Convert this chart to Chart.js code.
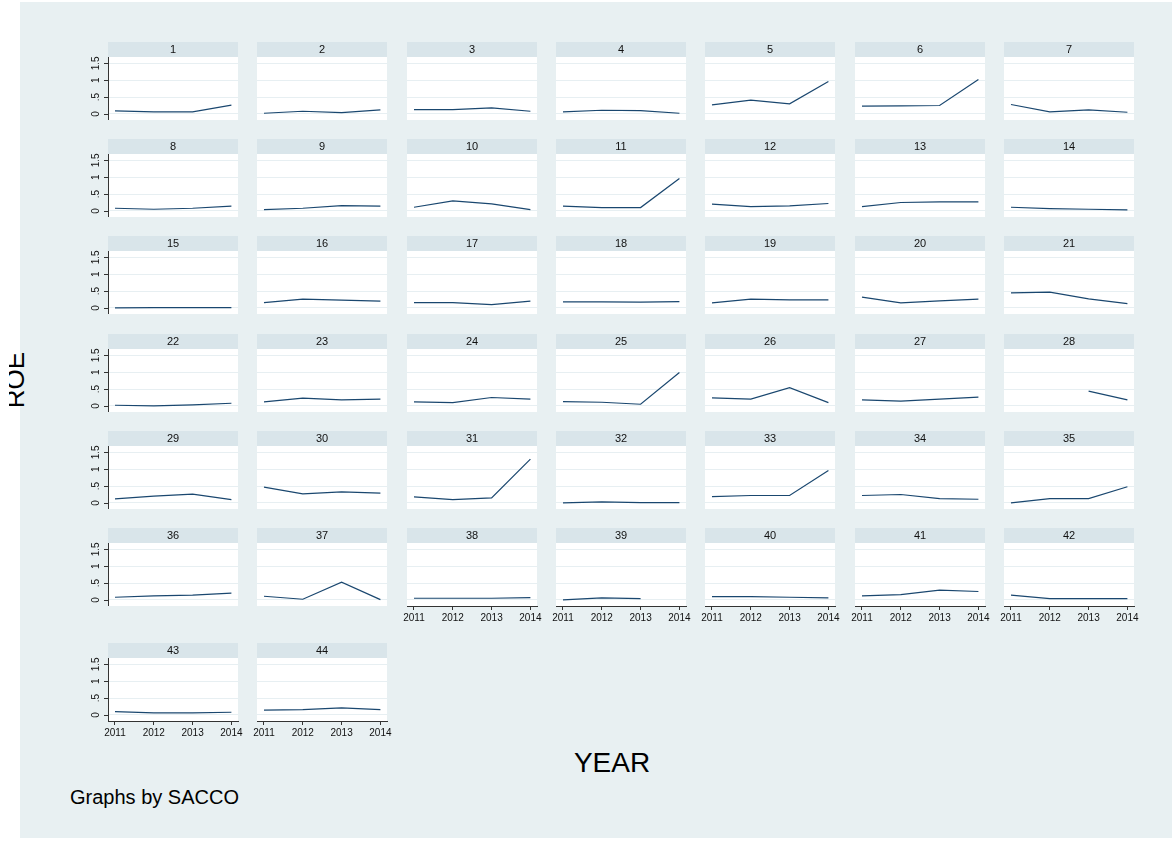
<!DOCTYPE html>
<html>
<head>
<meta charset="utf-8">
<script src="https://cdn.jsdelivr.net/npm/chart.js@4/dist/chart.umd.min.js"></script>
<style>
    body { margin: 0; background: #fff; font-family: "Liberation Sans", Arial, sans-serif; }
    #bg { position: absolute; left: 20px; top: 2px; width: 1152px; height: 836px; background: #e8f0f2; }
    canvas { position: absolute; }
    .lbl { position: absolute; color: #000; white-space: nowrap; }
</style>
</head>
<body>
<div id="bg"></div>
<div style="position:absolute;left:9px;top:320px;width:30px;height:120px;overflow:hidden">
    <div class="lbl" style="left:-44px;top:46px;width:100px;height:28px;line-height:28px;font-size:26px;text-align:center;transform:rotate(-90deg)">ROE</div>
</div>
<div class="lbl" style="left:612px;top:749px;font-size:28px;line-height:28px;transform:translateX(-50%)">YEAR</div>
<div class="lbl" style="left:70px;top:787px;font-size:20px;line-height:20px">Graphs by SACCO</div>
<div id="panels"></div>

<script>
// ROE by SACCO, one value per year (null = missing)
const years = [2011, 2012, 2013, 2014];
const sacco = Array.from({ length: 44 }, (_, i) => i + 1);
const yTicks = [0, 0.5, 1, 1.5];
const yTickLabels = ['0', '.5', '1', '1.5'];

const roe2011 = [0.09, 0.02, 0.13, 0.06, 0.27, 0.23, 0.28, 0.08, 0.04, 0.11, 0.14, 0.20, 0.13, 0.11,
    0.00, 0.16, 0.16, 0.18, 0.15, 0.32, 0.45, 0.02, 0.12, 0.12, 0.13, 0.24, 0.18, null,
    0.12, 0.47, 0.18, 0.00, 0.19, 0.22, 0.00, 0.08, 0.11, 0.05, 0.00, 0.10, 0.12, 0.14, 0.10, 0.14];
const roe2012 = [0.06, 0.08, 0.13, 0.11, 0.41, 0.24, 0.06, 0.05, 0.08, 0.30, 0.10, 0.13, 0.25, 0.07,
    0.01, 0.26, 0.16, 0.18, 0.26, 0.15, 0.47, 0.00, 0.23, 0.10, 0.11, 0.20, 0.14, null,
    0.20, 0.27, 0.10, 0.03, 0.22, 0.25, 0.13, 0.12, 0.02, 0.05, 0.06, 0.10, 0.16, 0.04, 0.06, 0.16];
const roe2013 = [0.06, 0.04, 0.18, 0.10, 0.30, 0.25, 0.12, 0.08, 0.16, 0.21, 0.10, 0.15, 0.27, 0.05,
    0.01, 0.23, 0.10, 0.17, 0.24, 0.21, 0.27, 0.03, 0.18, 0.25, 0.05, 0.54, 0.20, 0.44,
    0.26, 0.33, 0.15, 0.01, 0.22, 0.13, 0.13, 0.14, 0.53, 0.05, 0.04, 0.08, 0.29, 0.04, 0.06, 0.21];
const roe2014 = [0.26, 0.12, 0.08, 0.02, 0.96, 1.02, 0.05, 0.14, 0.14, 0.04, 0.96, 0.22, 0.27, 0.03,
    0.01, 0.20, 0.20, 0.19, 0.24, 0.26, 0.13, 0.08, 0.20, 0.20, 0.99, 0.10, 0.26, 0.18,
    0.10, 0.29, 1.30, 0.01, 0.96, 0.11, 0.48, 0.20, 0.01, 0.07, null, 0.06, 0.25, 0.04, 0.08, 0.16];

// layout of the 7-column grid (px)
const COLS = 7, PLOT_W = 130, PLOT_H = 63, STRIP_H = 15;
const LEFT0 = 108, COL_STEP = 149.3;
const rowTops = [42, 139.2, 236.4, 333.6, 430.8, 528, 643];
const Y_AXIS_W = 30, X_AXIS_H = 26, SIDE = 12;
const FONT = '"Liberation Sans", Arial, sans-serif';

// header strip above each panel + white plot region
const stripPlugin = {
    id: 'strip',
    beforeDraw(chart, args, opts) {
        const { ctx, chartArea: a } = chart;
        ctx.save();
        ctx.fillStyle = '#fff';
        ctx.fillRect(a.left, a.top, a.right - a.left, a.bottom - a.top);
        ctx.fillStyle = '#d9e5ea';
        ctx.fillRect(a.left, a.top - STRIP_H, a.right - a.left, STRIP_H);
        ctx.fillStyle = '#111';
        ctx.font = '11px ' + FONT;
        ctx.textAlign = 'center';
        ctx.textBaseline = 'middle';
        ctx.fillText(opts.text, (a.left + a.right) / 2, a.top - STRIP_H / 2);
        ctx.restore();
    },
    // Stata-style vertical y tick labels (only on first column)
    afterDraw(chart, args, opts) {
        if (!opts.yLabels) return;
        const { ctx, chartArea: a } = chart;
        const ys = chart.scales.y;
        ctx.save();
        ctx.fillStyle = '#111';
        ctx.font = '10px ' + FONT;
        ctx.textAlign = 'center';
        ctx.textBaseline = 'middle';
        yTicks.forEach((v, k) => {
            ctx.save();
            ctx.translate(a.left - 12, ys.getPixelForValue(v));
            ctx.rotate(-Math.PI / 2);
            ctx.fillText(yTickLabels[k], 0, 0);
            ctx.restore();
        });
        ctx.restore();
    }
};

const holder = document.getElementById('panels');

sacco.forEach((id, i) => {
    const col = i % COLS, row = Math.floor(i / COLS);
    const hasY = col === 0;
    const hasX = i + COLS >= sacco.length;
    const padL = SIDE + (hasY ? Y_AXIS_W : 0);
    const w = padL + PLOT_W + SIDE;
    const h = STRIP_H + PLOT_H + (hasX ? X_AXIS_H : 0);

    const cv = document.createElement('canvas');
    cv.width = w; cv.height = h;
    cv.style.left = (LEFT0 + col * COL_STEP - padL) + 'px';
    cv.style.top = rowTops[row] + 'px';
    cv.style.width = w + 'px'; cv.style.height = h + 'px';
    holder.appendChild(cv);

    const vals = [roe2011[i], roe2012[i], roe2013[i], roe2014[i]];

    new Chart(cv, {
        type: 'line',
        data: {
            datasets: [{
                data: years.map((x, j) => ({ x, y: vals[j] })),
                borderColor: '#1a476f',
                borderWidth: 1.2,
                pointRadius: 0,
                tension: 0,
                spanGaps: false
            }]
        },
        options: {
            responsive: false,
            animation: false,
            devicePixelRatio: 1,
            layout: { padding: { left: hasY ? SIDE + Y_AXIS_W : SIDE, right: SIDE, top: STRIP_H, bottom: 0 } },
            plugins: {
                legend: { display: false },
                tooltip: { enabled: false },
                strip: { text: String(id), yLabels: hasY }
            },
            scales: {
                x: {
                    type: 'linear',
                    min: 2010.82, max: 2014.17,
                    display: hasX,
                    afterBuildTicks: s => { s.ticks = years.map(v => ({ value: v })); },
                    afterFit: s => { s.height = hasX ? X_AXIS_H : 0; },
                    grid: { drawOnChartArea: false, drawTicks: true, tickLength: 4, tickColor: '#333' },
                    border: { display: true, color: '#333', width: 1 },
                    ticks: {
                        autoSkip: false, maxRotation: 0, minRotation: 0, padding: 2,
                        color: '#111',
                        font: { family: FONT, size: 10 },
                        callback: v => String(v)
                    }
                },
                y: {
                    min: -0.18, max: 1.69,
                    afterBuildTicks: s => { s.ticks = yTicks.map(v => ({ value: v })); },
                    afterFit: s => { s.width = 0; },
                    grid: {
                        color: '#e7eff2', lineWidth: 1,
                        drawTicks: false
                    },
                    border: { display: false },
                    ticks: { display: false }
                },
                yAxisLine: {
                    axis: 'y',
                    position: 'left',
                    display: hasY,
                    min: -0.18, max: 1.69,
                    afterBuildTicks: s => { s.ticks = yTicks.map(v => ({ value: v })); },
                    afterFit: s => { s.width = 0; },
                    grid: { drawOnChartArea: false, drawTicks: false },
                    border: { display: true, color: '#333', width: 1 },
                    ticks: { display: false }
                }
            }
        },
        plugins: [stripPlugin, {
            id: 'yTickMarks',
            afterDraw(chart) {
                if (!hasY) return;
                const { ctx, chartArea: a } = chart;
                const ys = chart.scales.y;
                ctx.save();
                ctx.strokeStyle = '#333';
                ctx.lineWidth = 1;
                yTicks.forEach(v => {
                    const y = Math.round(ys.getPixelForValue(v)) + 0.5;
                    ctx.beginPath();
                    ctx.moveTo(a.left - 4, y);
                    ctx.lineTo(a.left, y);
                    ctx.stroke();
                });
                ctx.restore();
            }
        }]
    });
});
</script>
</body>
</html>
